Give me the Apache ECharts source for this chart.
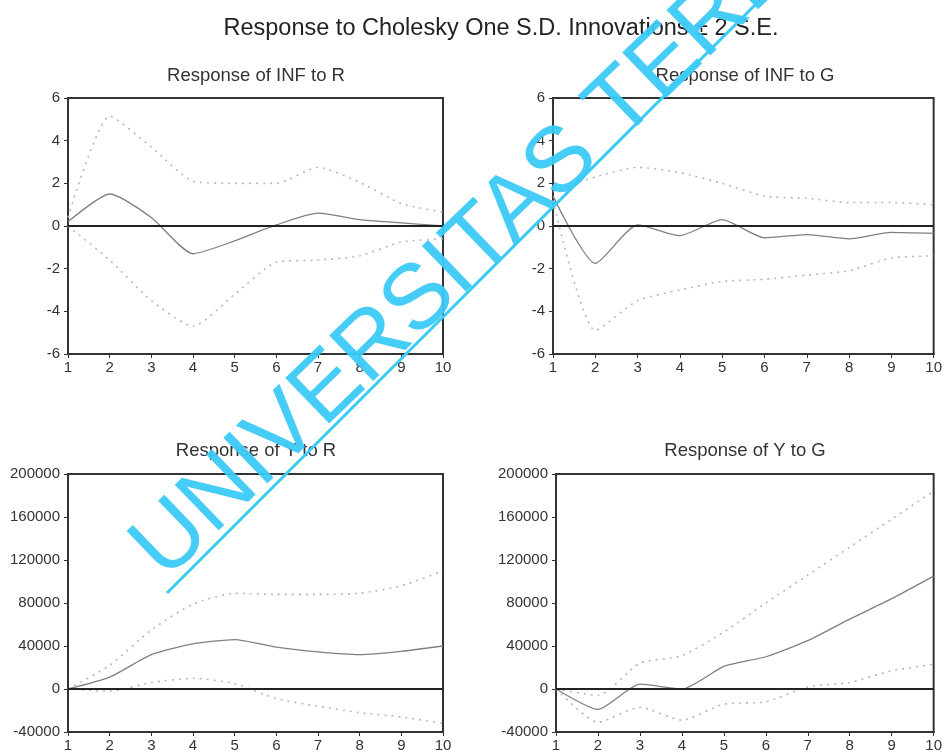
<!doctype html>
<html lang="en">
<head>
    <meta charset="UTF-8">
    <title>Response to Cholesky One S.D. Innovations</title>
    <script src="https://cdn.jsdelivr.net/npm/echarts@6/dist/echarts.min.js"></script>
    <style>
        html, body { margin: 0; padding: 0; background: #fff; }
        #main { width: 945px; height: 754px; }
    </style>
</head>
<body>
<div id="main"></div>
<script type="text/javascript">
    // periods on the x axis
    var periods = [1, 2, 3, 4, 5, 6, 7, 8, 9, 10];

    // response of INF to R
    var infR = [0.2, 1.5, 0.4, -1.3, -0.7, 0.05, 0.6, 0.3, 0.15, 0.0];
    var infRUp = [0.4, 5.15, 3.7, 2.1, 2.0, 2.0, 2.75, 2.05, 1.05, 0.65];
    var infRLo = [0.0, -1.6, -3.5, -4.7, -3.2, -1.7, -1.6, -1.4, -0.75, -0.6];

    // response of INF to G
    var infG = [1.4, -1.75, 0.05, -0.45, 0.3, -0.55, -0.4, -0.6, -0.3, -0.35];
    var infGUp = [1.6, 2.3, 2.75, 2.5, 2.0, 1.4, 1.3, 1.1, 1.1, 1.0];
    var infGLo = [1.2, -4.9, -3.5, -3.0, -2.6, -2.5, -2.3, -2.1, -1.5, -1.4];

    // response of Y to R
    var yR = [0, 11000, 32000, 42000, 46000, 39000, 34500, 32000, 35000, 40000];
    var yRUp = [0, 22000, 55000, 79000, 89000, 88000, 88000, 89000, 96000, 110000];
    var yRLo = [0, -2000, 6000, 10000, 5000, -9000, -16000, -22000, -26000, -32000];

    // response of Y to G
    var yG = [0, -19000, 4500, 0, 21000, 30000, 45000, 65000, 84000, 105000];
    var yGUp = [0, -6000, 24000, 31000, 53000, 80000, 106000, 132000, 158000, 184000];
    var yGLo = [0, -31000, -17000, -29000, -14000, -12000, 2000, 6000, 17000, 23000];

    var infTicks = ['-6', '-4', '-2', '0', '2', '4', '6'];
    var yTicks = ['-40000', '0', '40000', '80000', '120000', '160000', '200000'];

    var panelTitles = ['Response of INF to R', 'Response of INF to G', 'Response of Y to R', 'Response of Y to G'];

    var font = '"Liberation Sans", Arial, sans-serif';

    function pairs(arr) {
        return periods.map(function (p, i) { return [p, arr[i]]; });
    }

    var grids = [
        {left: 68, top: 98, width: 375, height: 256},
        {left: 553, top: 98, width: 381, height: 256},
        {left: 68, top: 474, width: 375, height: 258},
        {left: 556, top: 474, width: 378, height: 258}
    ];

    var xAxes = [], yAxes = [];
    for (var g = 0; g < 4; g++) {
        grids[g].show = true;
        grids[g].borderColor = '#333';
        grids[g].borderWidth = 2;
        grids[g].backgroundColor = '#fff';
        xAxes.push({
            type: 'value', gridIndex: g, min: 1, max: 10, interval: 1,
            axisLine: {show: true, onZero: false, lineStyle: {color: '#333', width: 2}},
            axisTick: {show: true, length: 4, lineStyle: {color: '#333'}},
            axisLabel: {color: '#333', fontSize: 15, fontFamily: font, margin: 6},
            splitLine: {show: false}
        });
        var isInf = g < 2;
        yAxes.push({
            type: 'value', gridIndex: g,
            min: isInf ? -6 : -40000, max: isInf ? 6 : 200000, interval: isInf ? 2 : 40000,
            axisLine: {show: true, onZero: false, lineStyle: {color: '#333', width: 2}},
            axisTick: {show: true, length: 4, lineStyle: {color: '#333'}},
            axisLabel: {
                color: '#333', fontSize: 15, fontFamily: font, margin: 8,
                formatter: function (v) {
                    var list = Math.abs(v) > 10 ? yTicks : infTicks;
                    var s = String(v);
                    return list.indexOf(s) >= 0 ? s : '';
                }
            },
            splitLine: {show: false}
        });
    }

    var bands = [
        [infR, infRUp, infRLo],
        [infG, infGUp, infGLo],
        [yR, yRUp, yRLo],
        [yG, yGUp, yGLo]
    ];

    var series = [];
    bands.forEach(function (b, g) {
        [b[1], b[2]].forEach(function (arr) {
            series.push({
                type: 'line', xAxisIndex: g, yAxisIndex: g, data: pairs(arr),
                symbol: 'none', smooth: 0.2, silent: true,
                lineStyle: {color: '#b8b8b8', width: 1.6, type: [2, 5]}
            });
        });
        series.push({
            type: 'line', xAxisIndex: g, yAxisIndex: g, data: pairs(b[0]),
            symbol: 'none', smooth: 0.2, silent: true, z: 3,
            lineStyle: {color: '#808080', width: 1.3},
            markLine: {
                silent: true, symbol: 'none', label: {show: false},
                lineStyle: {color: '#222', width: 1.8, type: 'solid'},
                data: [{yAxis: 0}]
            }
        });
    });

    var titles = [{
        text: 'Response to Cholesky One S.D. Innovations \u00b1 2 S.E.',
        left: 496, top: 12, textAlign: 'center',
        textStyle: {fontFamily: font, fontSize: 23.5, fontWeight: 'normal', color: '#222'}
    }];
    var titlePos = [[251, 61], [740, 61], [251, 436], [740, 436]];
    panelTitles.forEach(function (t, i) {
        titles.push({
            text: t, left: titlePos[i][0], top: titlePos[i][1], textAlign: 'center',
            textStyle: {fontFamily: font, fontSize: 18.5, fontWeight: 'normal', color: '#333'}
        });
    });

    var myChart = echarts.init(document.getElementById('main'), null, {renderer: 'canvas'});
    myChart.setOption({
        backgroundColor: '#fff',
        animation: false,
        title: titles,
        grid: grids,
        xAxis: xAxes,
        yAxis: yAxes,
        series: series,
        graphic: [
            {
                type: 'text', x: 166, y: 582, rotation: 44 * Math.PI / 180, z: 100,
                style: {
                    text: 'UNIVERSITAS TERBUKA', x: 0, y: 20,
                    font: 'normal 92px "Liberation Sans", Arial, sans-serif',
                    fill: '#3ccaf7', textVerticalAlign: 'bottom', opacity: 0.95
                }
            },
            {
                type: 'line', z: 100,
                shape: {x1: 167, y1: 593, x2: 790, y2: -30},
                style: {stroke: '#3ccaf7', lineWidth: 3}
            }
        ]
    });
</script>
</body>
</html>
